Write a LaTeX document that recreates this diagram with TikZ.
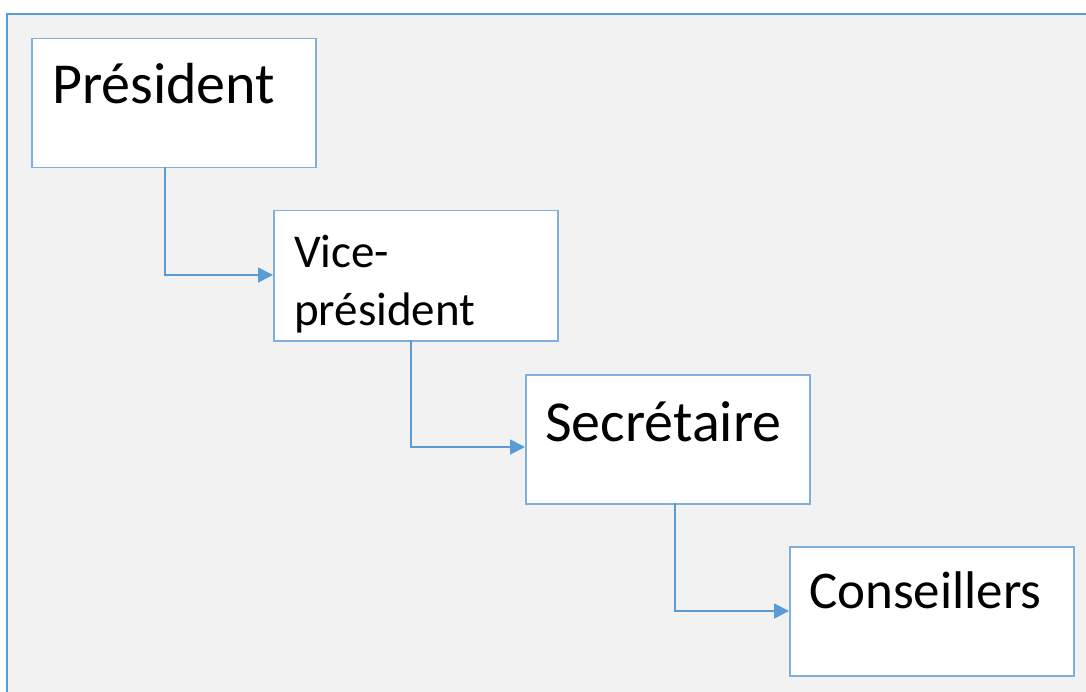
\documentclass[tikz,border=0pt]{standalone}
\usepackage{fontspec}
\setmainfont{Carlito}
\usetikzlibrary{arrows.meta}
\definecolor{frameblue}{HTML}{5B9BD5}
\definecolor{boxblue}{HTML}{7EAFDD}
\definecolor{bggrey}{HTML}{F2F2F2}
\tikzset{
  rolebox/.style={draw=boxblue, line width=1.5pt, fill=white, rectangle, inner sep=0pt},
  link/.style={draw=frameblue, line width=1.7pt, -{Triangle[length=15pt,width=15pt]}},
  label/.style={anchor=base west, inner sep=0pt, text=black}
}
\begin{document}
\begin{tikzpicture}[x=1pt,y=-1pt]
\useasboundingbox (0,0) rectangle (1086,692);
\fill[white] (0,0) rectangle (1086,692);
\fill[bggrey] (7,14) rectangle (1086,692);
\draw[frameblue, line width=2.8pt] (7,700) -- (7,14) -- (1090,14);
% boxes
\node[rolebox, minimum width=284pt, minimum height=129pt, anchor=north west] (pres) at (31,38) {};
\node[rolebox, minimum width=284pt, minimum height=130pt, anchor=north west] (vice) at (273,210) {};
\node[rolebox, minimum width=284pt, minimum height=129pt, anchor=north west] (sec) at (525,374) {};
\node[rolebox, minimum width=284pt, minimum height=129pt, anchor=north west] (cons) at (789,546) {};
% texts
\node[label, font=\fontsize{58}{70}\selectfont] (tpres) at (52,104) {Président};
\node[label, font=\fontsize{47}{50}\selectfont] (tvice1) at (294,268) {Vice-};
\node[label, font=\fontsize{47}{50}\selectfont] (tvice2) at (294,326) {président};
\node[label, font=\fontsize{58}{70}\selectfont] (tsec) at (545,441) {Secrétaire};
\node[label, font=\fontsize{53}{64}\selectfont] (tcons) at (809,608) {Conseillers};
% connectors
\coordinate (c1) at (165,167);
\coordinate (c2) at (411,340);
\coordinate (c3) at (675,503);
\draw[link] (c1) |- (vice.west |- 0,275);
\draw[link] (c2) |- (sec.west |- 0,447);
\draw[link] (c3) |- (cons.west |- 0,611);
\end{tikzpicture}
\end{document}
